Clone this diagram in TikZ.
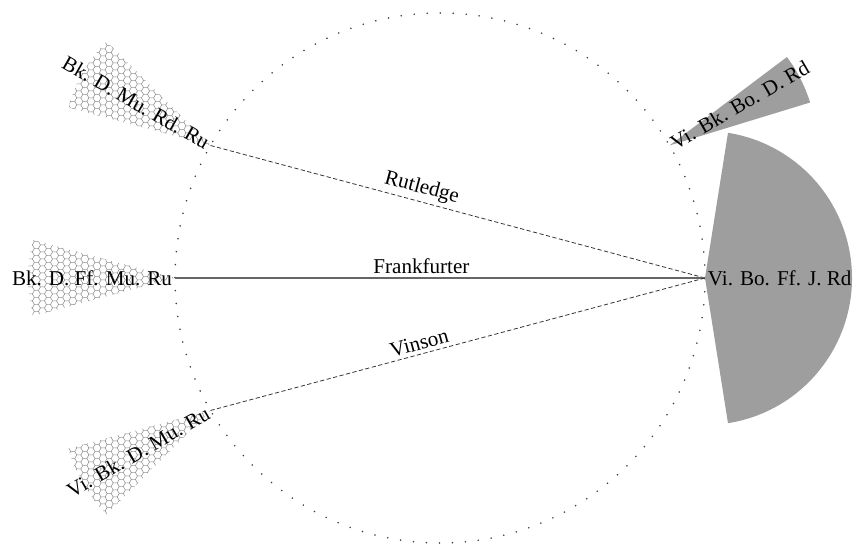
\documentclass[tikz,border=0pt]{standalone}
\usepackage{fontspec}
\setmainfont{Liberation Serif}
\usepackage{tikz}
\usetikzlibrary{patterns,calc}
\definecolor{fangray}{RGB}{158,158,158}
\definecolor{cellgray}{RGB}{140,140,140}
\definecolor{ringgray}{RGB}{60,60,60}
\pgfdeclarepatternformonly{hexcells}{\pgfqpoint{-0.5pt}{-0.5pt}}{\pgfqpoint{7.4pt}{4.5pt}}{\pgfqpoint{6.9pt}{3.984pt}}{
  \pgfsetlinewidth{0.3pt}
  \pgfpathmoveto{\pgfqpoint{0pt}{1.992pt}}
  \pgfpathlineto{\pgfqpoint{1.15pt}{1.992pt}}
  \pgfpathlineto{\pgfqpoint{2.3pt}{3.984pt}}
  \pgfpathlineto{\pgfqpoint{4.6pt}{3.984pt}}
  \pgfpathlineto{\pgfqpoint{5.75pt}{1.992pt}}
  \pgfpathlineto{\pgfqpoint{6.9pt}{1.992pt}}
  \pgfpathmoveto{\pgfqpoint{1.15pt}{1.992pt}}
  \pgfpathlineto{\pgfqpoint{2.3pt}{0pt}}
  \pgfpathmoveto{\pgfqpoint{4.6pt}{0pt}}
  \pgfpathlineto{\pgfqpoint{5.75pt}{1.992pt}}
  \pgfusepath{stroke}
}
\tikzset{
  ring/.style={ringgray,line width=1pt,line cap=round,dash pattern=on 0pt off 7.4pt},
  firm/.style={black!60,line width=0.6pt},
  loose/.style={black!80,line width=0.45pt,dash pattern=on 2.4pt off 1.4pt},
  hexfan/.style={pattern=hexcells,pattern color=cellgray},
  grayfan/.style={fill=fangray},
  bloc/.style={font=\fontsize{12}{14}\selectfont,inner sep=1.5pt},
  tielab/.style={font=\fontsize{12}{14}\selectfont,text=black,above,sloped,inner sep=2pt},
}

\begin{document}
\begin{tikzpicture}[x=1cm,y=1cm]
  \path[use as bounding box] (0,0) rectangle (17.16,10.92);
  \coordinate (c) at (8.8,5.36);
  \draw[ring] (c) circle[radius=5.3];

  % justice blocs on the ring
  \coordinate (left)  at ($(c)+(150:5.3)$);
  \coordinate (mid)   at ($(c)+(180:5.3)$);
  \coordinate (low)   at ($(c)+(210:5.3)$);
  \coordinate (upr)   at ($(c)+(30:5.3)$);
  \coordinate (right) at ($(c)+(0:5.3)$);

  \fill[hexfan] (left) -- ++(135:2.94) arc[start angle=135,end angle=165,radius=2.94] -- cycle;
  \fill[hexfan] (mid) -- ++(165:2.94) arc[start angle=165,end angle=195,radius=2.94] -- cycle;
  \fill[hexfan] (low) -- ++(195:2.94) arc[start angle=195,end angle=225,radius=2.94] -- cycle;
  \fill[grayfan] (upr) -- ++(17:2.94) arc[start angle=17,end angle=37,radius=2.94] -- cycle;
  \fill[grayfan] (right) -- ++(-81:2.94) arc[start angle=-81,end angle=81,radius=2.94] -- cycle;

  \draw[loose] (left) -- node[tielab,pos=0.42] (rut) {Rutledge} (right);
  \draw[firm] (mid) -- node[tielab,pos=0.465] (fra) {Frankfurter} (right);
  \draw[loose] (low) -- node[tielab,pos=0.428] (vin) {Vinson} (right);

  \node[bloc,anchor=east,rotate=-30] (bleft) at (left) {Bk. D. Mu. Rd. Ru};
  \node[bloc,anchor=east] (bmid) at (mid) {Bk. D. Ff. Mu. Ru};
  \node[bloc,anchor=east,rotate=30] (blow) at (low) {Vi. Bk. D. Mu. Ru};
  \node[bloc,anchor=west,rotate=30] (bupr) at (upr) {Vi. Bk. Bo. D. Rd};
  \node[bloc,anchor=west,inner sep=1.5pt] (bright) at (right) {Vi. Bo. Ff. J. Rd};
\end{tikzpicture}
\end{document}
